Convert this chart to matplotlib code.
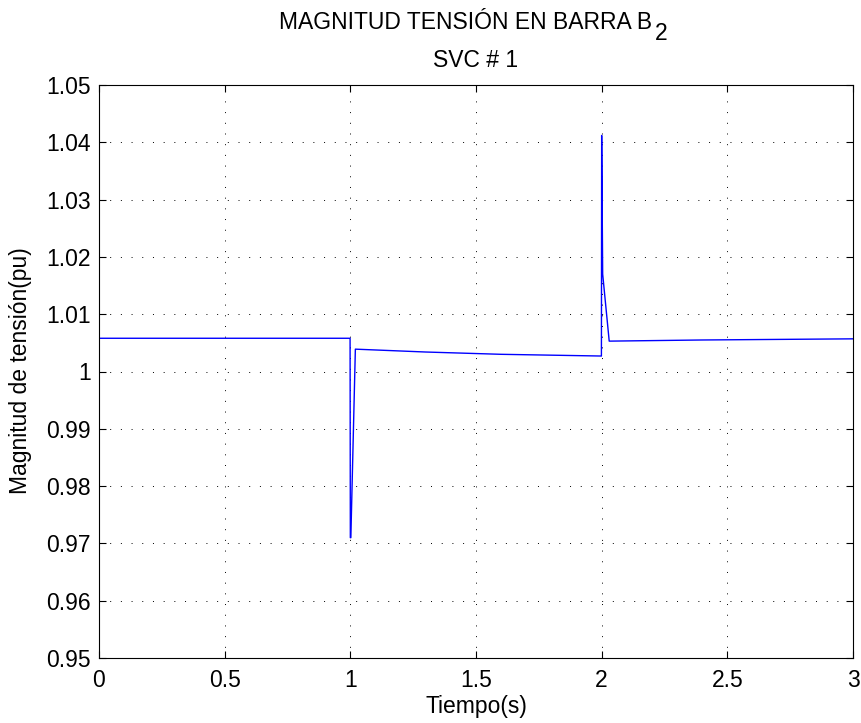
import matplotlib
matplotlib.use("Agg")
import matplotlib.pyplot as plt

time_s = [0.0, 0.999, 1.0, 1.002, 1.02, 1.3, 1.6, 1.999, 2.0, 2.004, 2.03, 2.4, 3.0]
voltage_pu = [1.0058, 1.0058, 0.9710, 0.9710, 1.0039, 1.0034, 1.0030, 1.0027, 1.0412, 1.0170, 1.0053, 1.0055, 1.0057]

xticks = [0, 0.5, 1, 1.5, 2, 2.5, 3]
xticklabels = ["0", "0.5", "1", "1.5", "2", "2.5", "3"]
yticks = [0.95, 0.96, 0.97, 0.98, 0.99, 1.0, 1.01, 1.02, 1.03, 1.04, 1.05]
yticklabels = ["0.95", "0.96", "0.97", "0.98", "0.99", "1", "1.01", "1.02", "1.03", "1.04", "1.05"]

plt.rcParams['font.family'] = ['Liberation Sans', 'DejaVu Sans']

W, H = 862, 723
FS = 16.5
fig = plt.figure(figsize=(W / 100, H / 100), dpi=100)
ax = fig.add_axes([99 / W, (H - 658) / H, (853 - 99) / W, (658 - 85) / H])
ax.plot(time_s, voltage_pu, color='#0000ff', linewidth=1.0)
ax.set_xlim(0, 3)
ax.set_ylim(0.95, 1.05)
ax.set_xticks(xticks)
ax.set_xticklabels(xticklabels)
ax.set_yticks(yticks)
ax.set_yticklabels(yticklabels)
ax.tick_params(direction='in', top=True, right=True, labelsize=FS, length=5, width=0.8)
ax.tick_params(axis='x', pad=8)
ax.tick_params(axis='y', pad=6)
ax.grid(True, linestyle=(0, (1, 10)), color='black', linewidth=0.7)
for s in ax.spines.values():
    s.set_linewidth(0.8)
fig.text(476 / W, (H - 713) / H, "Tiempo(s)", ha='center', va='baseline', fontsize=FS)
fig.text(21 / W, (H - 371) / H, "Magnitud de tensión(pu)", ha='center', va='center',
         rotation=90, fontsize=FS)
fig.text(652 / W, (H - 29) / H, "MAGNITUD TENSIÓN EN BARRA B", ha='right',
         va='baseline', fontsize=FS)
fig.text(655 / W, (H - 40) / H, "2", ha='left', va='baseline', fontsize=FS)
fig.text(476 / W, (H - 67) / H, "SVC # 1", ha='center', va='baseline', fontsize=FS)
fig.savefig("out.png", dpi=100)
